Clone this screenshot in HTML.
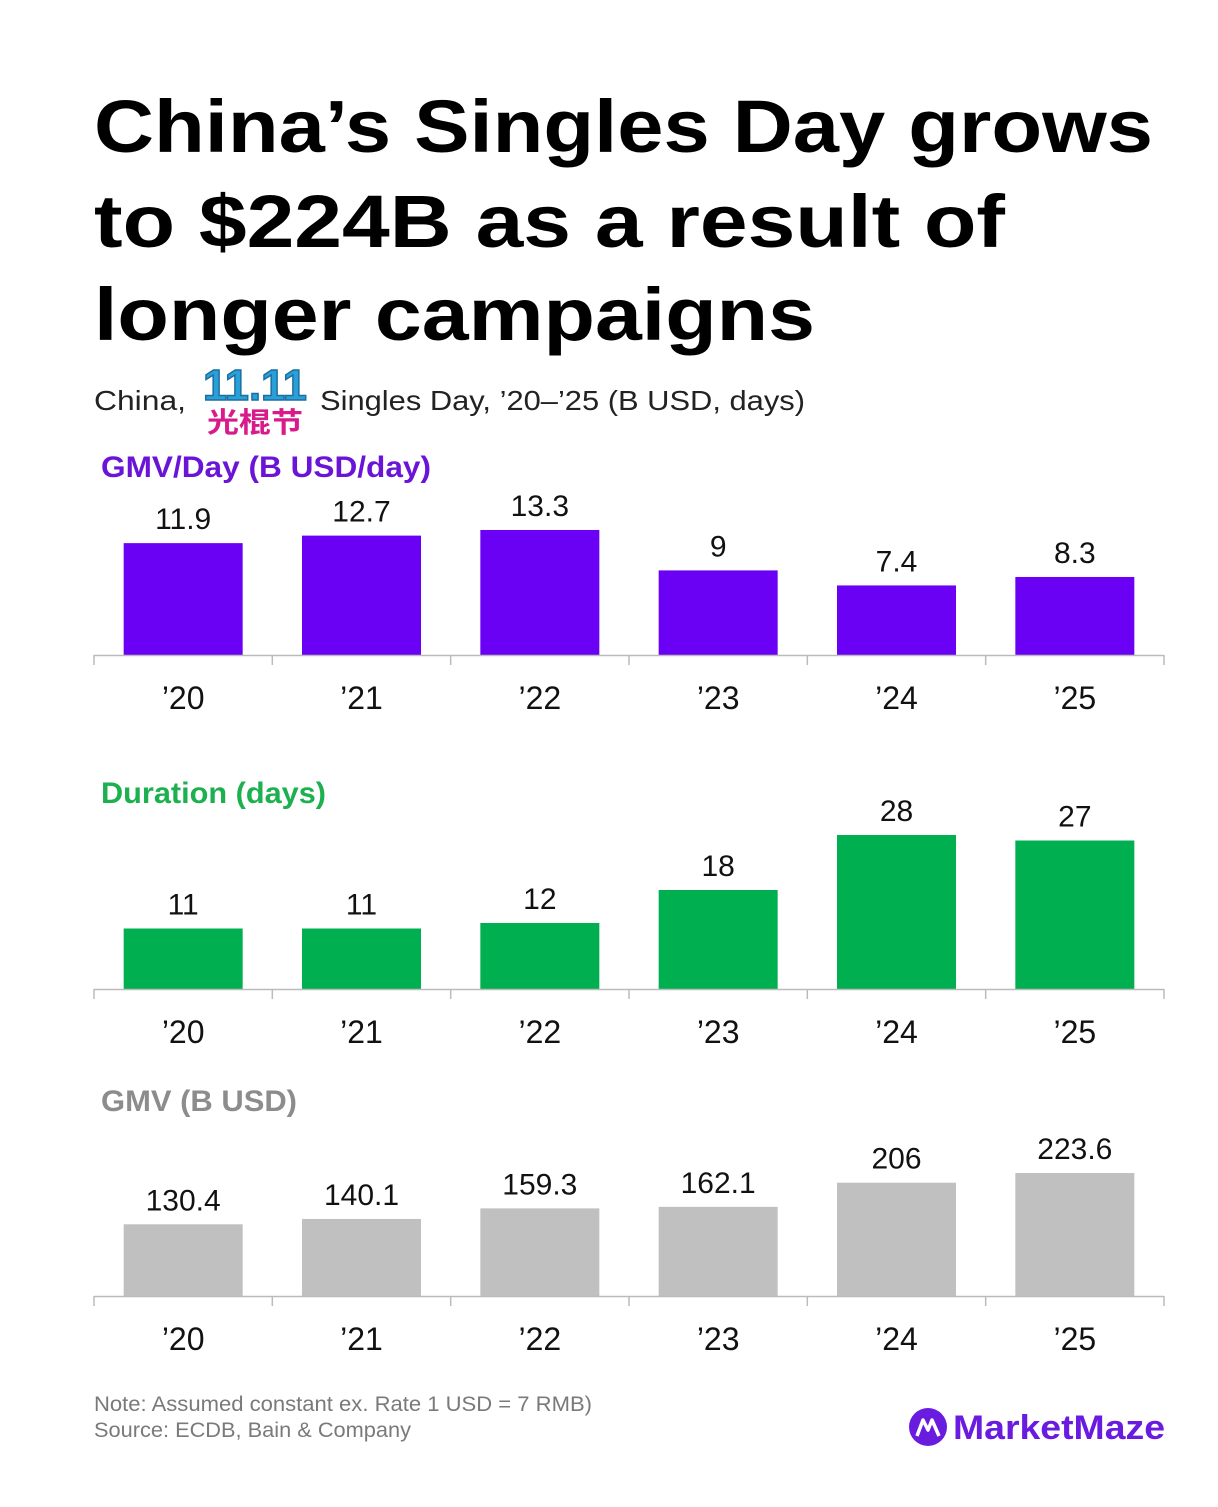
<!DOCTYPE html>
<html><head><meta charset="utf-8"><style>
html,body{margin:0;padding:0;background:#fff}
svg{display:block}
</style></head><body>
<svg id="s" width="1218" height="1507" viewBox="0 0 1218 1507" xmlns="http://www.w3.org/2000/svg" font-family="'Liberation Sans', 'Noto Sans CJK SC', sans-serif">
<rect width="1218" height="1507" fill="#fff"/>
<g font-weight="bold" font-size="74" fill="#000">
<text x="94" y="152" textLength="1059" lengthAdjust="spacingAndGlyphs">China’s Singles Day grows</text>
<text x="94" y="247" textLength="911" lengthAdjust="spacingAndGlyphs">to $224B as a result of</text>
<text x="94" y="340" textLength="721" lengthAdjust="spacingAndGlyphs">longer campaigns</text>
</g>
<g font-size="28" fill="#222">
<text x="94" y="410" textLength="92" lengthAdjust="spacingAndGlyphs">China,</text>
<text x="320" y="410" textLength="485" lengthAdjust="spacingAndGlyphs">Singles Day, ’20–’25 (B USD, days)</text>
</g>
<g font-weight="bold">
<text x="255" y="400" text-anchor="middle" font-size="44" fill="#2a9fd8" stroke="#1a6fa0" stroke-width="1.5" textLength="104" lengthAdjust="spacingAndGlyphs">11.11</text>
<text x="255" y="432" text-anchor="middle" font-size="28" fill="#d81a8a" textLength="96" lengthAdjust="spacingAndGlyphs">光棍节</text>
</g>
<g id="charts"></g>
<g font-size="21" fill="#7a7a7a">
<text x="94" y="1411" textLength="498" lengthAdjust="spacingAndGlyphs">Note: Assumed constant ex. Rate 1 USD = 7 RMB)</text>
<text x="94" y="1437" textLength="317" lengthAdjust="spacingAndGlyphs">Source: ECDB, Bain &amp; Company</text>
</g>
<g>
<circle cx="928" cy="1427" r="19" fill="#6a1be0"/>
<path d="M917 1436 L923 1420 L928 1430 L932 1420 L939 1436" stroke="#fff" stroke-width="3.5" fill="none" stroke-linejoin="round"/>
<text x="953" y="1439" font-size="34" font-weight="bold" fill="#6a1be0" textLength="212" lengthAdjust="spacingAndGlyphs">MarketMaze</text>
</g>
</svg>
<script>
const categories = ["’20","’21","’22","’23","’24","’25"];
const gmvPerDay = [11.9, 12.7, 13.3, 9, 7.4, 8.3];
const duration = [11, 11, 12, 18, 28, 27];
const gmv = [130.4, 140.1, 159.3, 162.1, 206, 223.6];
const gmvPerDayLabels = ["11.9","12.7","13.3","9","7.4","8.3"];
const durationLabels = ["11","11","12","18","28","27"];
const gmvLabels = ["130.4","140.1","159.3","162.1","206","223.6"];

const NS = "http://www.w3.org/2000/svg";
const root = document.getElementById("charts");
const x0 = 94, x1 = 1164;
const step = (x1 - x0) / categories.length;
function xCenter(i){ return x0 + step * (i + 0.5); }
function mk(tag, attrs, parent){ const e = document.createElementNS(NS, tag); for (const k in attrs) e.setAttribute(k, attrs[k]); parent.appendChild(e); return e; }

function drawChart(name, values, labels, title, titleColor, titleY, titleLen, color, baseY, scale){
  const g = mk("g", {}, root);
  
  
  const t = mk("text", {x: 101, y: titleY, "font-size": 30, "font-weight": "bold", fill: titleColor, textLength: titleLen, lengthAdjust: "spacingAndGlyphs"}, g);
  t.textContent = title;
  
  
  const yv = v => baseY - v * scale;
  values.forEach((v, i) => {
    const cx = xCenter(i);
    const b = mk("rect", {x: cx - 59.5, y: yv(v), width: 119, height: baseY - yv(v), fill: color}, g);
    
    
    const l = mk("text", {x: cx, y: yv(v) - 14, "text-anchor": "middle", "font-size": 30, fill: "#111"}, g);
    l.textContent = labels[i];
    
    
    const c = mk("text", {x: cx, y: baseY + 54, "text-anchor": "middle", "font-size": 32, fill: "#111"}, g);
    c.textContent = categories[i];
    
    
  });
  const ax = mk("line", {x1: x0, x2: x1, y1: baseY + 0.5, y2: baseY + 0.5, stroke: "#bbb", "stroke-width": 1.5}, g);
  
  
  for (let i = 0; i <= categories.length; i++) {
    const tk = mk("line", {x1: x0 + step * i, x2: x0 + step * i, y1: baseY, y2: baseY + 10, stroke: "#bbb", "stroke-width": 1.5}, g);
    
    
  }
}
drawChart("gmv-per-day-chart", gmvPerDay, gmvPerDayLabels, "GMV/Day (B USD/day)", "#6a14d8", 477, 330, "#6a00f4", 655, 9.4);
drawChart("duration-chart", duration, durationLabels, "Duration (days)", "#1db04f", 803, 225, "#00b050", 989, 5.5);
drawChart("gmv-chart", gmv, gmvLabels, "GMV (B USD)", "#8c8c8c", 1111, 196, "#c0c0c0", 1296, 0.55);
</script>
</body></html>
